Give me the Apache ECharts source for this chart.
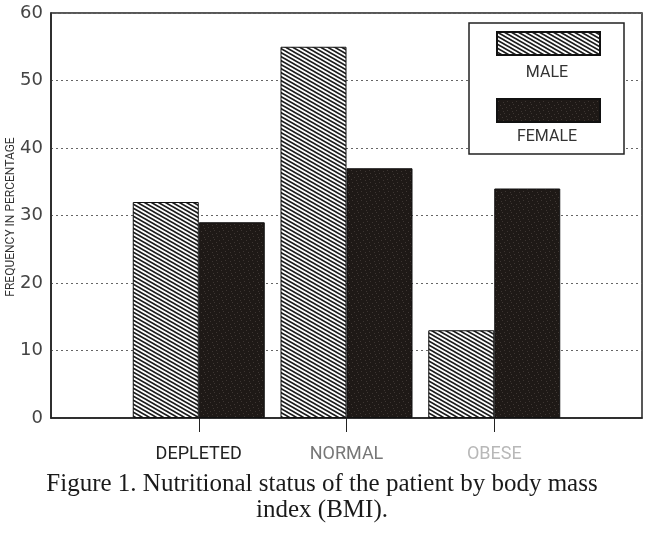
<!DOCTYPE html>
<html>
<head>
<meta charset="utf-8">
<script src="https://cdn.jsdelivr.net/npm/echarts@6/dist/echarts.min.js"></script>
<style>html,body{margin:0;padding:0;background:#fff}#c{width:650px;height:537px}</style>
</head>
<body>
<div id="c"></div>
<script>
var categories = ['DEPLETED', 'NORMAL', 'OBESE'];
var maleValues = [32, 55, 13];
var femaleValues = [29, 37, 34];
var yTicks = [0, 10, 20, 30, 40, 50, 60];
var seriesNames = ['MALE', 'FEMALE'];
var axisName = 'FREQUENCY IN PERCENTAGE';
var caption = 'Figure 1. Nutritional status of the patient by body mass\nindex (BMI).';

function hatchPattern() {
  var W = 7, H = 4;
  var c = document.createElement('canvas');
  c.width = W; c.height = H;
  var g = c.getContext('2d');
  g.fillStyle = '#ffffff';
  g.fillRect(0, 0, W, H);
  g.strokeStyle = '#1a1a1a';
  g.lineWidth = 1.6;
  for (var k = -1; k <= 1; k++) {
    g.beginPath();
    g.moveTo(-1, -H / W + k * H);
    g.lineTo(W + 1, (W + 1) * H / W + k * H);
    g.stroke();
  }
  return { image: c, repeat: 'repeat' };
}
function darkPattern() {
  var c = document.createElement('canvas');
  c.width = 9; c.height = 9;
  var g = c.getContext('2d');
  g.fillStyle = '#1e1916';
  g.fillRect(0, 0, 9, 9);
  g.fillStyle = '#3d3632';
  var dots = [[1, 2], [5, 0], [7, 5], [3, 6], [0, 8], [6, 3]];
  dots.forEach(function (d) { g.fillRect(d[0], d[1], 1, 1); });
  return { image: c, repeat: 'repeat' };
}

var xData = [''].concat(categories, ['']);
function pad(arr) { return [null].concat(arr, [null]); }
var labelColors = { 'DEPLETED': '#222', 'NORMAL': '#777', 'OBESE': '#b8b8b8' };

var chart = echarts.init(document.getElementById('c'), null, { renderer: 'canvas' });
chart.setOption({
  animation: false,
  backgroundColor: '#fff',
  grid: { left: 51, right: 8, top: 13, bottom: 119, outerBoundsMode: 'none', containLabel: false,
          show: true, borderColor: '#222', borderWidth: 1.5, backgroundColor: 'transparent' },
  legend: {
    data: seriesNames,
    orient: 'vertical',
    left: 496, top: 31,
    padding: 0,
    itemWidth: 103, itemHeight: 23, itemGap: 42,
    icon: 'rect',
    formatter: function () { return ''; },
    textStyle: { fontSize: 1 },
    selectedMode: false,
    z: 6
  },
  xAxis: {
    type: 'category',
    data: xData,
    boundaryGap: false,
    axisLine: { show: true, lineStyle: { color: '#222', width: 1.5 } },
    axisTick: { show: true, length: 14, interval: function (i) { return i > 0 && i < xData.length - 1; }, lineStyle: { color: '#222', width: 1 } },
    axisLabel: {
      interval: 0, margin: 27,
      fontFamily: 'Roboto', fontSize: 18,
      color: function (v) { return labelColors[v] || '#222'; }
    },
    splitLine: { show: false }
  },
  yAxis: {
    type: 'value',
    min: yTicks[0], max: yTicks[yTicks.length - 1], interval: 10,
    axisLine: { show: true, lineStyle: { color: '#222', width: 1.5 } },
    axisTick: { show: false },
    axisLabel: { fontFamily: 'DejaVu Sans', fontSize: 18, color: '#444', margin: 8 },
    splitLine: { show: true, lineStyle: { color: '#666', type: [2, 3], width: 1 } }
  },
  series: [
    { name: seriesNames[0], type: 'bar', data: pad(maleValues), barWidth: 66, barGap: '0%',
      itemStyle: { color: hatchPattern(), borderColor: '#111', borderWidth: 1 } },
    { name: seriesNames[1], type: 'bar', data: pad(femaleValues), barWidth: 66, barGap: '0%',
      itemStyle: { color: darkPattern(), borderColor: '#111', borderWidth: 1 } }
  ],
  graphic: [
    { type: 'text', z: 7, x: 11, y: 217, rotation: Math.PI / 2,
      style: { text: axisName, x: 0, y: 0, textAlign: 'center', textVerticalAlign: 'middle', fontFamily: 'Roboto', fontSize: 12, fill: '#333' } },
    { type: 'rect', z: 5, shape: { x: 469, y: 23, width: 155, height: 131 },
      style: { fill: '#fff', stroke: '#222', lineWidth: 1.5 } },
    { type: 'text', z: 7, style: { text: seriesNames[0], x: 547, y: 73, textAlign: 'center', textVerticalAlign: 'middle', fontFamily: 'Roboto', fontSize: 16, fill: '#333' } },
    { type: 'text', z: 7, style: { text: seriesNames[1], x: 547, y: 137, textAlign: 'center', textVerticalAlign: 'middle', fontFamily: 'Roboto', fontSize: 16, fill: '#333' } },
    { type: 'text', z: 7, style: { text: caption, x: 322, y: 471, textAlign: 'center', textVerticalAlign: 'top', fontFamily: 'Liberation Serif', fontSize: 25, lineHeight: 26, fill: '#1a1a1a' } }
  ]
});
</script>
</body>
</html>
